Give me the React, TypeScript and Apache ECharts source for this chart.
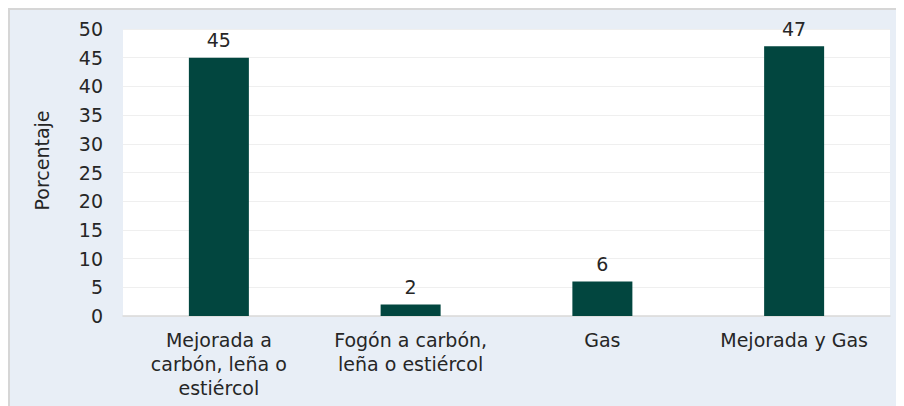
import React, { useEffect, useRef } from "react";
import * as echarts from "echarts";

const categories = [
  "Mejorada a\ncarbón, leña o\nestiércol",
  "Fogón a carbón,\nleña o estiércol",
  "Gas",
  "Mejorada y Gas",
];
const values = [45, 2, 6, 47];
const yTitle = "Porcentaje";
const yMin = 0;
const yMax = 50;
const yInterval = 5;

const FONT = "'DejaVu Sans', sans-serif";
const TEXT = "#262626";
const FS = 19;

export default function App() {
  const ref = useRef<HTMLDivElement>(null);
  useEffect(() => {
    if (!ref.current) return;
    const chart = echarts.init(ref.current, null, { renderer: "svg" });
    chart.setOption({
      animation: false,
      textStyle: { fontFamily: FONT },
      grid: {
        left: 113,
        right: 14,
        top: 19,
        bottom: 90,
        show: true,
        backgroundColor: "#ffffff",
        borderWidth: 0,
      },
      xAxis: {
        type: "category",
        data: categories,
        axisTick: { show: false },
        axisLine: { show: true, lineStyle: { color: "#d9d9d9", width: 1.5 } },
        axisLabel: {
          color: TEXT,
          fontSize: FS,
          fontFamily: FONT,
          lineHeight: 24,
          margin: 12,
          interval: 0,
          align: "center",
        },
      },
      yAxis: {
        type: "value",
        min: yMin,
        max: yMax,
        interval: yInterval,
        name: yTitle,
        nameLocation: "middle",
        nameRotate: 90,
        nameGap: 72,
        nameTextStyle: {
          color: TEXT,
          fontSize: FS,
          fontFamily: FONT,
          padding: [0, 0, 0, 24],
        },
        axisLine: { show: false },
        axisTick: { show: false },
        axisLabel: { color: TEXT, fontSize: FS, fontFamily: FONT, margin: 20 },
        splitLine: { show: true, lineStyle: { color: "#efefef", width: 1 } },
      },
      series: [
        {
          type: "bar",
          data: values,
          barWidth: 60,
          itemStyle: { color: "#02463f" },
          label: {
            show: true,
            position: "top",
            distance: 8,
            color: TEXT,
            fontSize: FS,
            fontFamily: FONT,
          },
        },
      ],
    });
    return () => chart.dispose();
  }, []);
  return (
    <div
      style={{
        width: 896,
        height: 398,
        boxSizing: "border-box",
        borderTop: "2px solid #d6d6d6",
        borderLeft: "2px solid #d6d6d6",
        background: "#e8eef6",
        overflow: "hidden",
      }}
    >
      <div ref={ref} style={{ width: 894, height: 396 }} />
    </div>
  );
}
